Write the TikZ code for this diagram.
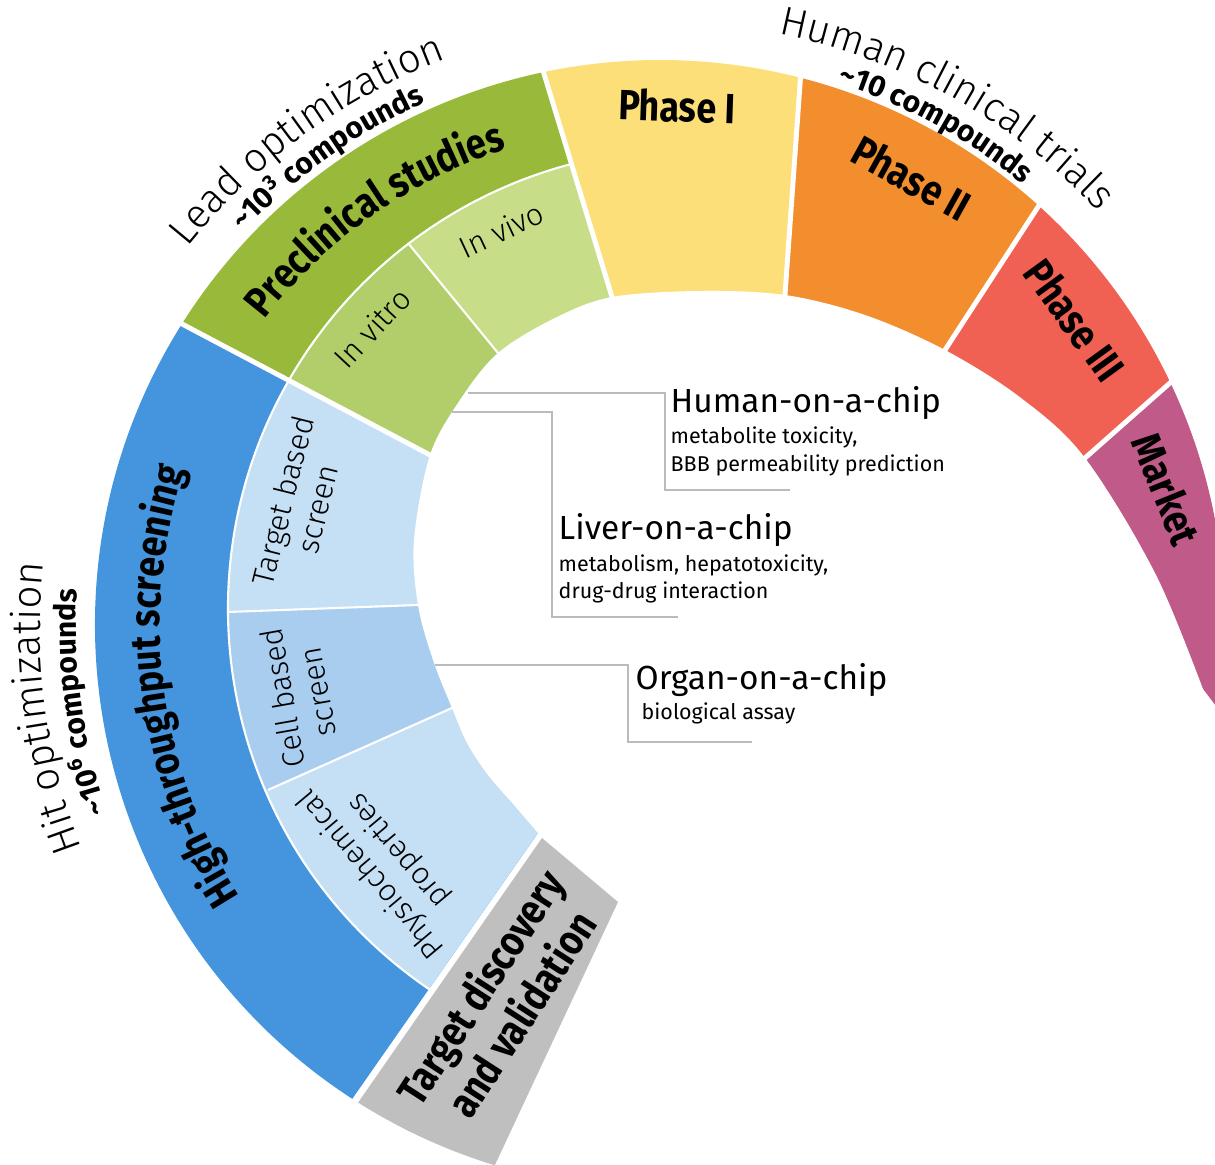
\documentclass[tikz,border=0pt]{standalone}
\usepackage{fontspec}
\setmainfont{Fira Sans}
\newfontfamily\heavyfont{Fira Sans}[FakeStretch=0.85]
\newfontfamily\lightfont{Fira Sans Light}
\usetikzlibrary{calc,decorations.text}

\definecolor{hts}{HTML}{4495DD}
\definecolor{screenlight}{HTML}{C5DFF5}
\definecolor{screenmid}{HTML}{A9CDEE}
\definecolor{preclin}{HTML}{98B93A}
\definecolor{vitro}{HTML}{B2CE6A}
\definecolor{vivo}{HTML}{C8DD88}
\definecolor{phaseone}{HTML}{FDDF7A}
\definecolor{phasetwo}{HTML}{F28E2E}
\definecolor{phasethree}{HTML}{F06154}
\definecolor{market}{HTML}{C05A88}
\definecolor{targetgray}{HTML}{BFBFBF}
\definecolor{leadergray}{HTML}{BBBBBB}

\newcommand\stagefont{\heavyfont\bfseries\fontsize{12}{14}\selectfont}
\newcommand\headfont{\lightfont\fontsize{11.5}{13}\selectfont}
\newcommand\countfont{\fontsize{8.5}{10}\selectfont\bfseries}
\newcommand\subfont{\lightfont\fontsize{8.7}{10.2}\selectfont}
\newcommand\chipfont{\fontsize{9.5}{11}\selectfont}
\newcommand\notefont{\fontsize{6.1}{7.5}\selectfont}

\begin{document}
\begin{tikzpicture}[x=0.01cm, y=-0.01cm,
    gap/.style={white, line width=1.4pt},
    thin gap/.style={white, line width=0.6pt},
    leader/.style={draw=leadergray, line width=0.45pt},
    lbl/.style={inner sep=0pt, align=center},
    note/.style={inner sep=0pt, anchor=base west},
    curved/.style={decorate, decoration={text along path, text align=center, text={#1}}}]
\useasboundingbox (-660,-625) rectangle (555,540);
\clip (-660,-625) rectangle (555,540);

% rim ends and hole ends of the dividers
\coordinate (o0) at (123:565);   \coordinate (i0) at (-122,208);
\coordinate (o1) at (212.2:565); \coordinate (i1) at (-230,-170);
\coordinate (o2) at (258.1:565); \coordinate (i2) at (-48,-328);
\coordinate (o3) at (284.4:565); \coordinate (i3) at (125,-330);
\coordinate (o4) at (312.1:565); \coordinate (i4) at (285,-275);
\coordinate (o5) at (334.6:565); \coordinate (i5) at (425,-167);
\foreach \k in {0,...,5} \coordinate (e\k) at ($(o\k)!1.4!(i\k)$);

\coordinate (m6) at (-252,-382); \coordinate (i6) at (-162,-272);
\coordinate (m7) at (-432,-13);  \coordinate (i7) at (-242,-20);
\coordinate (m8) at (-392,165);  \coordinate (i8) at (-208,83);
\foreach \k in {6,7,8} {
  \coordinate (e\k) at ($(m\k)!1.5!(i\k)$);
  \coordinate (f\k) at ($(i\k)!1.3!(m\k)$);
}

% outer ring
\fill[hts] (o0) arc[start angle=123, end angle=212.2, radius=565] -- (e1) -- (e0) -- cycle;
\fill[preclin] (o1) arc[start angle=212.2, end angle=258.1, radius=565] -- (e2) -- (e1) -- cycle;
\fill[phaseone] (o2) arc[start angle=258.1, end angle=284.4, radius=565] -- (e3) -- (e2) -- cycle;
\fill[phasetwo] (o3) arc[start angle=284.4, end angle=312.1, radius=565] -- (e4) -- (e3) -- cycle;
\fill[phasethree] (o4) arc[start angle=312.1, end angle=334.6, radius=565] -- (e5) -- (e4) -- cycle;
\fill[market] (o5) arc[start angle=334.6, end angle=368.6, radius=565] -- (e5) -- cycle;

% inner ring
\begin{scope}
  \clip (28,-16) circle[radius=460];
  \fill[screenlight] (o1) -- (e1) -- (e7) -- (f7) -- cycle;
  \fill[screenmid] (f7) -- (e7) -- (e8) -- (f8) -- cycle;
  \fill[screenlight] (f8) -- (e8) -- (e0) -- (o0) -- cycle;
  \fill[vitro] (o1) -- (f6) -- (e6) -- (e1) -- cycle;
  \fill[vivo] (f6) -- (o2) -- (e2) -- (e6) -- cycle;
\end{scope}
\draw[thin gap] (28,-16) ++(124.2:460) arc[start angle=124.2, end angle=255.1, radius=460];
\foreach \k in {1,...,5} \draw[gap] ($(i\k)!1.1!(o\k)$) -- (e\k);
\foreach \k in {6,7,8} \draw[thin gap] (m\k) -- (e\k);

% hole
\fill[white] plot[smooth, tension=0.55] coordinates {(-122,208) (-146,180) (-172,150) (-193,118)
  (-208,83) (-227,35) (-242,-20) (-246,-85) (-230,-170) (-200,-225) (-162,-272) (-105,-307)
  (-48,-328) (40,-334) (125,-330) (205,-310) (285,-275) (361,-227) (425,-167) (497,-48) (550,83)}
  -- (640,83) -- (640,640) -- (-122,640) -- cycle;

\fill[targetgray] (-118,213) -- (-42,277) -- (107:565) arc[start angle=107, end angle=122.3, radius=565] -- cycle;

% curved titles
\path[curved={|\headfont|Lead optimization}] (204:605) arc[start angle=204, end angle=264, radius=605];
\path[curved={|\countfont|{\textasciitilde}10{\textsuperscript{3}} compounds}] (204.6:573) arc[start angle=204.6, end angle=264.6, radius=573];
\path[curved={|\stagefont|Preclinical studies}] (204.9:500) arc[start angle=204.9, end angle=264.9, radius=500];
\path[curved={|\headfont|Human clinical trials}] (269:603) arc[start angle=269, end angle=329, radius=603];
\path[curved={|\countfont|{\textasciitilde}10 compounds}] (268.8:571) arc[start angle=268.8, end angle=328.8, radius=571];
\path[curved={|\stagefont|High-throughput screening}] (132.6:500) arc[start angle=132.6, end angle=212.6, radius=500];
\path[curved={|\headfont|Hit optimization}] (132.3:620) arc[start angle=132.3, end angle=212.3, radius=620];
\path[curved={|\countfont|{\textasciitilde}10{\textsuperscript{6}} compounds}] (132.4:584) arc[start angle=132.4, end angle=212.4, radius=584];

% straight labels
\node[lbl, font=\stagefont, rotate=-2] (phase1) at (17,-519) {Phase I};
\node[lbl, font=\stagefont, rotate=-29] (phase2) at (252,-447) {Phase II};
\node[lbl, font=\stagefont, rotate=-54] (phase3) at (415,-305) {Phase III};
\node[lbl, font=\stagefont, rotate=-68] (marketlbl) at (507,-136) {Market};
\node[lbl, font=\subfont, rotate=47] (invitro) at (-288,-297) {In vitro};
\node[lbl, font=\subfont, rotate=25] (invivo) at (-159,-395) {In vivo};
\node[lbl, font=\subfont, rotate=76] (targetscreen) at (-360,-120) {Target based\\screen};
\node[lbl, font=\subfont, rotate=100] (cellscreen) at (-360,70) {Cell based\\screen};
\node[lbl, font=\subfont, rotate=130] (physchem) at (-275,237) {Physiochemical\\properties};
\node[lbl, font=\stagefont, rotate=57] (discovery) at (-160,375) {Target discovery\\and validation};

% chip models
\node[note, font=\chipfont] (human) at (10,-212) {Human-on-a-chip};
\node[note, font=\notefont] (human-a) at (10,-181) {metabolite toxicity,};
\node[note, font=\notefont] (human-b) at (10,-153) {BBB permeability prediction};
\coordinate (human-in) at (-192,-232);
\coordinate (human-top) at (5,-232);
\coordinate (human-out) at (130,-135);
\draw[leader] (human-in) -- (human-top) |- (human-out);

\node[note, font=\chipfont] (liver) at (-102,-85) {Liver-on-a-chip};
\node[note, font=\notefont] (liver-a) at (-102,-53) {metabolism, hepatotoxicity,};
\node[note, font=\notefont] (liver-b) at (-102,-26) {drug-drug interaction};
\coordinate (liver-in) at (-208,-213);
\coordinate (liver-top) at (-108,-213);
\coordinate (liver-out) at (18,-8);
\draw[leader] (liver-in) -- (liver-top) |- (liver-out);

\node[note, font=\chipfont] (organ) at (-25,65) {Organ-on-a-chip};
\node[note, font=\notefont] (organ-a) at (-19,95) {biological assay};
\coordinate (organ-in) at (-225,40);
\coordinate (organ-top) at (-32,40);
\coordinate (organ-out) at (92,117);
\draw[leader] (organ-in) -- (organ-top) |- (organ-out);
\end{tikzpicture}
\end{document}
